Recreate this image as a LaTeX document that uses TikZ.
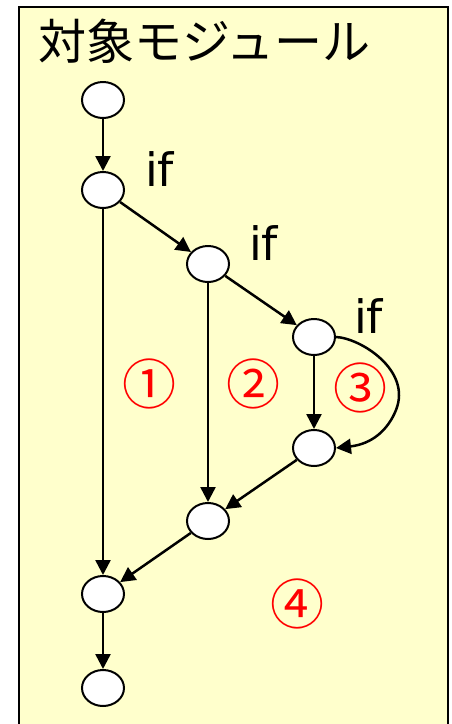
\documentclass[tikz,border=0pt]{standalone}
\usepackage{fontspec}
\setmainfont{DejaVu Sans}
\newfontfamily\jpfont{Noto Sans CJK JP}
\usetikzlibrary{arrows.meta,shapes.geometric}
\definecolor{panel}{HTML}{FFFFCC}
\tikzset{
  state/.style={draw=black, line width=2pt, fill=white, ellipse, minimum width=42pt, minimum height=36pt, inner sep=0pt},
  flow/.style={-{Triangle[length=15pt,width=15pt]}, line width=2.5pt},
  cond/.style={font=\fontsize{46}{46}\selectfont, anchor=base west, inner sep=0pt},
  pathno/.style={text=red, font=\jpfont\fontsize{54}{54}\selectfont}
}
\begin{document}
\begin{tikzpicture}[x=1pt,y=-1pt]
  \useasboundingbox (0,0) rectangle (452,724);
  % module frame (runs past the lower edge)
  \begin{scope}
    \clip (0,0) rectangle (452,724);
    \draw[line width=2.5pt, fill=panel] (19,7) rectangle (448,740);
  \end{scope}
  \node[anchor=west, inner sep=0pt, font=\jpfont\fontsize{48}{48}\selectfont] (title) at (38,41) {対象モジュール};

  % control-flow nodes
  \node[state] (n1) at (103,100) {};
  \node[state] (n2) at (103,190) {};
  \node[state] (n3) at (208,264) {};
  \node[state] (n4) at (314,337) {};
  \node[state] (n5) at (314,448) {};
  \node[state] (n6) at (208,521) {};
  \node[state] (n7) at (103,594) {};
  \node[state] (n8) at (103,688) {};

  % branch labels
  \node[cond] (if1) at (145,186) {if};
  \node[cond] (if2) at (249,260) {if};
  \node[cond] (if3) at (354,333) {if};

  % path numbers
  \node[pathno] (p1) at (149,384) {①};
  \node[pathno] (p2) at (253,384) {②};
  \node[pathno] (p3) at (360,388) {③};
  \node[pathno] (p4) at (297,604) {④};

  % edges
  \draw[flow] (n1) -- (n2);
  \draw[flow] (n2) -- (n3);
  \draw[flow] (n2) -- (n7);
  \draw[flow] (n3) -- (n4);
  \draw[flow] (n3) -- (n6);
  \draw[flow] (n4) -- (n5);
  \draw[flow] (n4.east) .. controls (360,338) and (412,370) .. (396,410)
              .. controls (388,430) and (372,444) .. (n5.east);
  \draw[flow] (n5) -- (n6);
  \draw[flow] (n6) -- (n7);
  \draw[flow] (n7) -- (n8);
\end{tikzpicture}
\end{document}
